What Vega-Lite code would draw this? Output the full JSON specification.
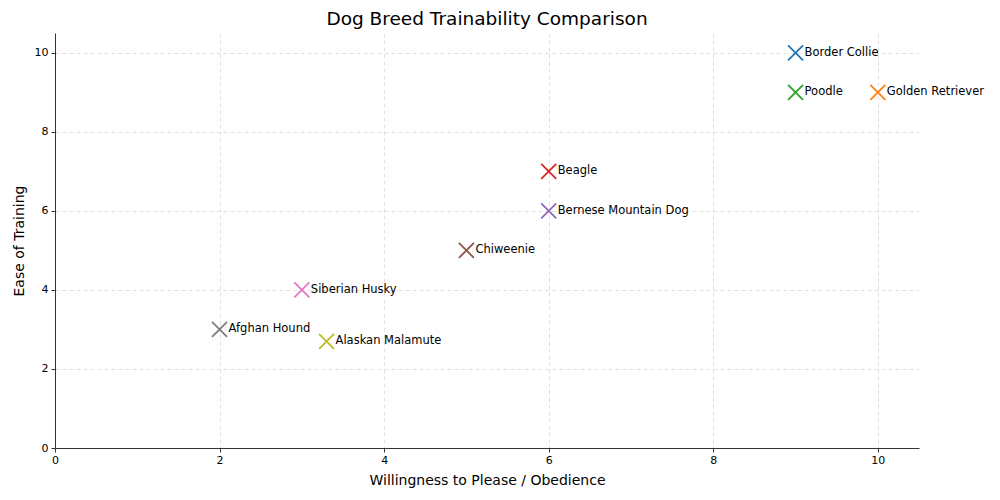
{
  "$schema": "https://vega.github.io/schema/vega-lite/v6.json",
  "autosize": "none",
  "width": 864,
  "height": 415,
  "padding": {"left": 55, "top": 33, "right": 81, "bottom": 52},
  "background": "white",
  "title": {
    "text": "Dog Breed Trainability Comparison",
    "font": "DejaVu Sans",
    "fontSize": 18.5,
    "fontWeight": "normal",
    "color": "#000000",
    "anchor": "middle",
    "offset": 5
  },
  "config": {
    "view": {"stroke": null},
    "axis": {
      "labelFont": "DejaVu Sans",
      "labelFontSize": 11,
      "labelColor": "#000000",
      "labelFlush": false,
      "titleFont": "DejaVu Sans",
      "titleFontSize": 14,
      "titleFontWeight": "normal",
      "titleColor": "#000000",
      "domainColor": "#333333",
      "domainWidth": 1,
      "tickColor": "#333333",
      "tickSize": 4,
      "gridColor": "#cccccc",
      "gridDash": [4, 3],
      "gridOpacity": 0.75,
      "gridWidth": 0.8
    }
  },
  "data": {
    "values": [
      {"breed": "Border Collie", "obedience": 9, "ease": 10},
      {"breed": "Golden Retriever", "obedience": 10, "ease": 9},
      {"breed": "Poodle", "obedience": 9, "ease": 9},
      {"breed": "Beagle", "obedience": 6, "ease": 7},
      {"breed": "Bernese Mountain Dog", "obedience": 6, "ease": 6},
      {"breed": "Chiweenie", "obedience": 5, "ease": 5},
      {"breed": "Siberian Husky", "obedience": 3, "ease": 4},
      {"breed": "Afghan Hound", "obedience": 2, "ease": 3},
      {"breed": "Alaskan Malamute", "obedience": 3.3, "ease": 2.7}
    ]
  },
  "encoding": {
    "x": {
      "field": "obedience",
      "type": "quantitative",
      "scale": {"domain": [0, 10.5], "nice": false},
      "axis": {"values": [0, 2, 4, 6, 8, 10], "title": "Willingness to Please / Obedience", "titlePadding": 8, "labelPadding": 2}
    },
    "y": {
      "field": "ease",
      "type": "quantitative",
      "scale": {"domain": [0, 10.5], "nice": false},
      "axis": {"values": [0, 2, 4, 6, 8, 10], "title": "Ease of Training", "titlePadding": 8, "labelPadding": 3}
    }
  },
  "layer": [
    {
      "mark": {
        "type": "point",
        "shape": "M-1,-1L1,1M-1,1L1,-1",
        "size": 225,
        "strokeWidth": 1.8,
        "filled": false,
        "opacity": 1
      },
      "encoding": {
        "color": {
          "field": "breed",
          "type": "nominal",
          "sort": null,
          "scale": {
            "domain": ["Border Collie", "Golden Retriever", "Poodle", "Beagle", "Bernese Mountain Dog", "Chiweenie", "Siberian Husky", "Afghan Hound", "Alaskan Malamute"],
            "range": ["#1f77b4", "#ff7f0e", "#2ca02c", "#d62728", "#9467bd", "#8c564b", "#e377c2", "#7f7f7f", "#bcbd22"]
          },
          "legend": null
        }
      }
    },
    {
      "mark": {
        "type": "text",
        "align": "left",
        "baseline": "middle",
        "dx": 9,
        "font": "DejaVu Sans",
        "fontSize": 11.5,
        "color": "#000000"
      },
      "encoding": {"text": {"field": "breed"}}
    }
  ]
}
